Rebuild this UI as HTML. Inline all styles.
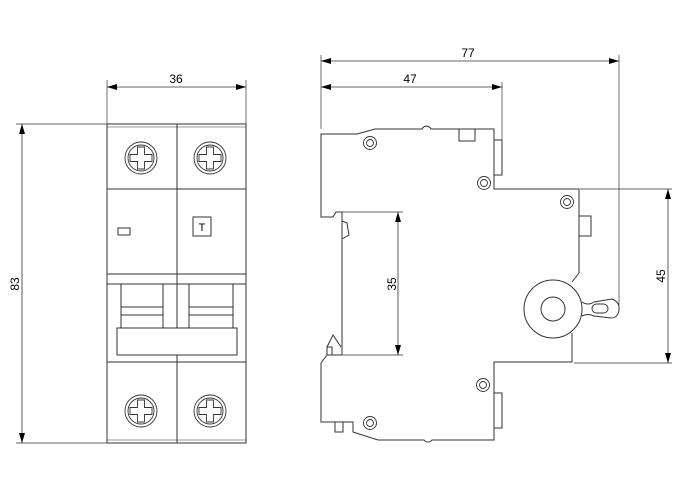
<!DOCTYPE html>
<html><head><meta charset="utf-8"><style>
html,body{margin:0;padding:0;background:#fff;}
svg{display:block;}
text{font-family:"Liberation Sans",sans-serif;font-size:12px;fill:#000;}
</style></head><body>
<svg width="700" height="500" viewBox="0 0 700 500" xmlns="http://www.w3.org/2000/svg">
<defs>
<marker id="a" viewBox="0 0 10 6" refX="10" refY="3" markerWidth="10" markerHeight="6" orient="auto-start-reverse" markerUnits="userSpaceOnUse"><path d="M0,0L10,3L0,6z" fill="#000"/></marker>
<g id="scr"><circle r="16" fill="none" stroke="#333" stroke-width="0.9"/><circle r="13" fill="none" stroke="#333" stroke-width="0.9"/><path d="M-3.5,-11h7v7.5h7.5v7h-7.5v7.5h-7v-7.5h-7.5v-7h7.5z" fill="none" stroke="#333" stroke-width="0.9"/></g>
<g id="sm"><circle r="6.5" fill="none" stroke="#333" stroke-width="0.9"/><circle r="3.5" fill="none" stroke="#333" stroke-width="0.9"/></g>
</defs>
<g stroke="#333" stroke-width="1" fill="none">
<!-- front view -->
<rect x="107" y="124" width="139" height="319"/>
<line x1="107" y1="127" x2="246" y2="127" stroke-width="0.6"/>
<line x1="107" y1="440" x2="246" y2="440" stroke-width="0.6"/>
<line x1="177" y1="124" x2="177" y2="443"/>
<line x1="107" y1="189" x2="246" y2="189"/>
<line x1="107" y1="274" x2="246" y2="274"/>
<line x1="107" y1="284" x2="246" y2="284"/>
<line x1="107" y1="362" x2="246" y2="362"/>
<rect x="121" y="284" width="42" height="44"/>
<rect x="189" y="284" width="44" height="44"/>
<line x1="121" y1="307" x2="163" y2="307"/><line x1="121" y1="315" x2="163" y2="315"/>
<line x1="189" y1="307" x2="233" y2="307"/><line x1="189" y1="315" x2="233" y2="315"/>
<rect x="117" y="328" width="120" height="27" fill="#fff"/>
<rect x="118" y="228" width="12" height="7"/>
<rect x="193" y="217" width="18" height="19"/>
<use href="#scr" x="141" y="158"/><use href="#scr" x="210" y="158"/>
<use href="#scr" x="141" y="411"/><use href="#scr" x="210" y="411"/>
<!-- dims front -->
<line x1="107" y1="80" x2="107" y2="124" stroke-width="0.7"/>
<line x1="246" y1="80" x2="246" y2="124" stroke-width="0.7"/>
<line x1="107" y1="87" x2="246" y2="87" stroke-width="0.8" marker-start="url(#a)" marker-end="url(#a)"/>
<line x1="16" y1="124" x2="107" y2="124" stroke-width="0.7"/>
<line x1="16" y1="443" x2="107" y2="443" stroke-width="0.7"/>
<line x1="22" y1="124" x2="22" y2="443" stroke-width="0.8" marker-start="url(#a)" marker-end="url(#a)"/>
<!-- side view -->
<path d="M342,212 L336,212 L333,217 L321,217 L321,134 L357,134 L375,129 L422,129 A5,5 0 0 1 431,129 L494,129 L494,189 L579,189 L579,273 L572,282"/>
<path d="M572,333 L572,362 L494,362 L494,440 L432,440 A5,5 0 0 1 424,440 L378,440 L353,432 L353,422 L321,422 L321,363 L327,355"/>
<path d="M342,212 L342,355"/>
<path d="M342,221 L347,223 L349,235 L342,239"/>
<path d="M327,355 L327,347 L333,335 L341,347 M327,347 L332,347 L332,355 M327,355 L342,355"/>
<circle cx="553" cy="309" r="29"/>
<circle cx="553" cy="309" r="12"/>
<path d="M582,302 Q588,306 594,302 L612,299 Q620,302 619,310 Q618,318 611,318 L594,316 Q588,313 582,316"/>
<rect x="592" y="304" width="16" height="9" rx="4.5"/>
<rect x="459" y="129" width="16" height="12"/>
<rect x="494" y="140" width="8" height="35"/>
<rect x="579" y="216" width="12" height="20"/>
<rect x="494" y="393" width="8" height="35"/>
<rect x="335" y="422" width="8" height="10"/>
<use href="#sm" x="370" y="143"/><use href="#sm" x="484" y="183"/><use href="#sm" x="567" y="202"/>
<use href="#sm" x="483" y="385"/><use href="#sm" x="370" y="423"/>
<!-- side dims -->
<line x1="321" y1="55" x2="321" y2="129" stroke-width="0.7"/>
<line x1="619" y1="55" x2="619" y2="305" stroke-width="0.7"/>
<line x1="321" y1="61" x2="619" y2="61" stroke-width="0.8" marker-start="url(#a)" marker-end="url(#a)"/>
<line x1="502" y1="82" x2="502" y2="140" stroke-width="0.7"/>
<line x1="321" y1="87" x2="502" y2="87" stroke-width="0.8" marker-start="url(#a)" marker-end="url(#a)"/>
<line x1="342" y1="212" x2="403" y2="212" stroke-width="0.7"/>
<line x1="342" y1="355" x2="403" y2="355" stroke-width="0.7"/>
<line x1="398" y1="212" x2="398" y2="355" stroke-width="0.8" marker-start="url(#a)" marker-end="url(#a)"/>
<line x1="580" y1="189" x2="672" y2="189" stroke-width="0.7"/>
<line x1="574" y1="363" x2="672" y2="363" stroke-width="0.7"/>
<line x1="668" y1="189" x2="668" y2="363" stroke-width="0.8" marker-start="url(#a)" marker-end="url(#a)"/>
</g>
<text x="202" y="231" text-anchor="middle" style="font-size:11px">T</text>
<text x="176" y="83" text-anchor="middle">36</text>
<text x="468" y="57" text-anchor="middle">77</text>
<text x="410" y="83" text-anchor="middle">47</text>
<text transform="translate(19,284) rotate(-90)" text-anchor="middle">83</text>
<text transform="translate(396,284) rotate(-90)" text-anchor="middle">35</text>
<text transform="translate(665,276) rotate(-90)" text-anchor="middle">45</text>
</svg>
</body></html>
